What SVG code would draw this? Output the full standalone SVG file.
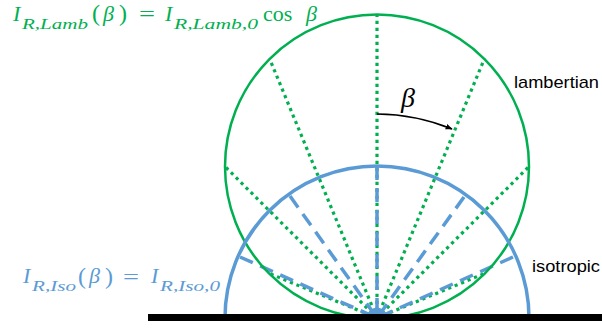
<svg xmlns="http://www.w3.org/2000/svg" width="602" height="331" viewBox="0 0 602 331">
<defs>
<style>
.g{fill:#00B050;font-family:"Liberation Serif",serif;font-style:italic}
.b{fill:#5B9BD5;font-family:"Liberation Serif",serif;font-style:italic}
.up{font-style:normal}
.lab{font-family:"Liberation Sans",Arial,sans-serif;fill:#000}
.gdot{stroke:#00B050;stroke-width:3.2;stroke-dasharray:3.2 3.8;fill:none}
.bdash{stroke:#5B9BD5;stroke-width:3.5;stroke-dasharray:14 8;fill:none;marker-end:url(#ba)}
</style>
<marker id="ba" viewBox="0 0 10 10" refX="9" refY="5" markerWidth="3" markerHeight="3" orient="auto" markerUnits="strokeWidth">
<path d="M0,0 L10,5 L0,10 z" fill="#5B9BD5"/>
</marker>
<marker id="ka" viewBox="0 0 10 10" refX="9" refY="5" markerWidth="7" markerHeight="7" orient="auto" markerUnits="userSpaceOnUse">
<path d="M0,1 L10,5 L0,9 z" fill="#000"/>
</marker>
</defs>
<g id="connectors">
<g id="green-rays">
<line class="gdot" x1="377" y1="318" x2="377" y2="15"/>
<line class="gdot" x1="377" y1="318" x2="484.5" y2="58.5"/>
<line class="gdot" x1="377" y1="318" x2="269.5" y2="58.5"/>
<line class="gdot" x1="377" y1="318" x2="529" y2="166.5"/>
<line class="gdot" x1="377" y1="318" x2="225" y2="166.5"/>
<line class="gdot" x1="377" y1="318" x2="484.5" y2="273.5"/>
<line class="gdot" x1="377" y1="318" x2="269.5" y2="273.5"/>
</g>
<g id="blue-rays">
<line class="bdash" x1="377" y1="166" x2="377" y2="318"/>
<line class="bdash" x1="464" y1="197" x2="377" y2="318"/>
<line class="bdash" x1="290" y1="196" x2="377" y2="318"/>
<line class="bdash" x1="513" y1="257" x2="377" y2="318"/>
<line class="bdash" x1="240" y1="257" x2="377" y2="318"/>
</g>
<path id="beta-arrow" d="M377,114 A204,204 0 0 1 452,129" fill="none" stroke="#000" stroke-width="1.6" marker-end="url(#ka)"/>
</g>
<g id="lambertian-circle">
<circle cx="377" cy="166.5" r="152" fill="none" stroke="#00B050" stroke-width="2.5"/>
</g>
<g id="isotropic-semicircle">
<path d="M225,318 A152,152 0 0 1 529,318" fill="none" stroke="#5B9BD5" stroke-width="3.5"/>
</g>
<g id="surface">
<rect x="148" y="314" width="454" height="7" fill="#000"/>
</g>
<g id="beta-label">
<text x="401" y="107" font-family="Liberation Serif,serif" font-style="italic" font-size="28" fill="#000">β</text>
</g>
<g id="lambertian-label">
<text class="lab" x="514" y="88" font-size="17" textLength="85" lengthAdjust="spacingAndGlyphs">lambertian</text>
</g>
<g id="isotropic-label">
<text class="lab" x="532" y="272" font-size="17" textLength="68" lengthAdjust="spacingAndGlyphs">isotropic</text>
</g>
<g id="green-formula">
<text class="g" x="13" y="21" font-size="22">I</text>
<text class="g" x="22" y="29" font-size="15.5" textLength="66" lengthAdjust="spacingAndGlyphs">R,Lamb</text>
<text class="g up" x="92" y="21" font-size="24">(</text>
<text class="g" x="103" y="21" font-size="22">β</text>
<text class="g up" x="119" y="21" font-size="24">)</text>
<text class="g up" x="139" y="21" font-size="22" textLength="16" lengthAdjust="spacingAndGlyphs">=</text>
<text class="g" x="165" y="21" font-size="22">I</text>
<text class="g" x="174" y="29" font-size="15.5" textLength="84" lengthAdjust="spacingAndGlyphs">R,Lamb,0</text>
<text class="g up" x="263" y="21" font-size="22">cos</text>
<text class="g" x="306" y="21" font-size="22">β</text>
</g>
<g id="blue-formula">
<text class="b" x="23" y="283" font-size="22">I</text>
<text class="b" x="32" y="291" font-size="15.5" textLength="44" lengthAdjust="spacingAndGlyphs">R,Iso</text>
<text class="b up" x="78" y="284" font-size="24">(</text>
<text class="b" x="89" y="283" font-size="22">β</text>
<text class="b up" x="105" y="284" font-size="24">)</text>
<text class="b up" x="123" y="284" font-size="22" textLength="16" lengthAdjust="spacingAndGlyphs">=</text>
<text class="b" x="151" y="283" font-size="22">I</text>
<text class="b" x="160" y="291" font-size="15.5" textLength="60" lengthAdjust="spacingAndGlyphs">R,Iso,0</text>
</g>
</svg>
